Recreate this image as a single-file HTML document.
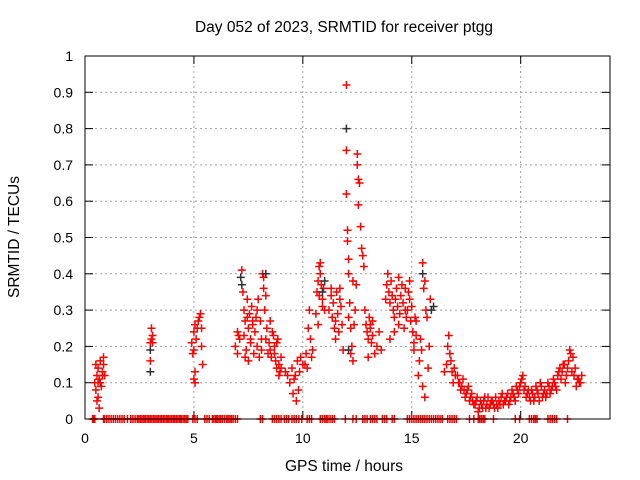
<!DOCTYPE html>
<html><head><meta charset="utf-8"><style>
html,body{margin:0;padding:0;background:#fff;}
svg{display:block;font-family:"Liberation Sans",sans-serif;}
</style></head><body>
<svg id="chart" width="640" height="480" viewBox="0 0 640 480">
<rect x="0" y="0" width="640" height="480" fill="#fff"/>
<text x="344" y="32" text-anchor="middle" font-size="15.5">Day 052 of 2023, SRMTID for receiver ptgg</text>
<text transform="translate(19,237) rotate(-90)" text-anchor="middle" font-size="15.5">SRMTID / TECUs</text>
<text x="344" y="471" text-anchor="middle" font-size="15.5">GPS time / hours</text>
<g id="grid"></g><g id="ticks"></g><g id="marks"></g>
<rect x="85" y="56" width="525" height="363" fill="none" stroke="#000" stroke-width="1"/>
</svg>
<script>
const xTicks=[0,5,10,15,20];
const yTicks=[0,0.1,0.2,0.3,0.4,0.5,0.6,0.7,0.8,0.9,1];
const yTickLabels=["0","0.1","0.2","0.3","0.4","0.5","0.6","0.7","0.8","0.9","1"];
const zeroTimes=[0.35,0.45,0.85,1.0,1.2,1.3,1.5,1.7,1.95,2.1,2.3,2.4,2.55,2.7,2.85,3.0,3.15,3.3,3.45,3.6,3.75,3.9,4.05,4.2,4.35,4.5,4.65,4.95,5.15,5.5,5.7,5.85,6.0,6.15,6.3,6.5,6.65,6.8,7.0,8.05,8.15,8.6,8.8,9.0,9.15,9.35,9.5,9.7,9.95,10.2,10.4,10.8,11.0,11.15,11.25,11.45,11.95,12.3,12.45,12.75,12.95,13.1,13.3,13.4,13.65,13.85,14.1,14.2,14.8,14.9,15.0,15.2,15.4,15.6,15.8,16.0,16.2,16.4,16.65,16.85,17.05,17.65,17.85,18.05,18.2,18.35,18.75,19.75,19.95,20.4,20.6,20.75,21.25,21.45,21.65,22.15];
const zeroTimesExtra=[0.4,0.9,1.1,1.4,1.6,1.8,2.2,2.47,2.62,2.77,2.92,3.07,3.22,3.37,3.52,3.67,3.82,3.97,4.12,4.27,4.42,4.57,4.72,5.05,5.6,5.92,6.07,6.22,6.4,6.57,6.72,6.9,8.7,8.9,9.25,9.6,9.82,10.3,10.9,11.08,11.35,12.85,13.2,13.75,15.1,15.3,15.5,15.7,15.9,16.1,16.3,16.75,16.95,18.12,18.28,20.5,20.68,21.35,21.55];
const redTimes=[
0.45,0.5,0.5,0.55,0.6,0.6,0.65,0.7,0.75,0.8,0.85,0.9,0.55,0.65,0.7,0.8,0.85,0.6,
3.0,3.05,3.05,3.1,3.1,3.0,
4.9,4.95,5.0,5.0,5.05,5.05,5.1,5.15,5.2,5.25,5.3,5.35,5.4,5.0,5.05,5.35,
6.9,7.0,7.0,7.05,7.1,
7.2,7.25,7.3,7.3,7.35,7.4,7.45,7.5,7.5,7.55,7.6,7.65,7.7,7.75,7.8,7.85,7.9,7.95,8.0,8.05,8.1,8.15,8.2,8.25,8.3,8.35,8.4,8.45,8.5,8.55,8.6,8.65,8.7,8.75,8.8,8.85,8.9,8.95,9.0,
7.35,7.45,7.6,7.7,7.9,8.1,8.2,8.3,8.5,8.7,8.8,9.0,8.9,
9.2,9.3,9.4,9.5,9.6,9.7,9.75,9.8,9.85,9.9,10.0,9.55,9.65,
10.1,10.15,10.2,10.25,10.3,10.35,10.4,10.45,
10.6,10.65,10.7,10.75,10.8,10.85,10.9,10.95,11.0,10.7,10.8,10.9,10.75,
11.2,11.3,11.35,11.4,11.45,11.5,11.55,11.6,11.65,11.7,11.75,11.8,11.85,11.3,11.5,11.7,
12.0,12.0,12.0,12.05,12.05,12.1,12.1,12.15,12.2,12.2,12.25,12.3,12.35,12.4,12.45,12.5,12.5,12.55,12.55,12.6,12.65,12.7,12.75,12.8,12.1,12.3,
12.85,12.9,12.95,13.0,13.05,13.1,13.15,13.2,13.3,13.4,13.5,13.6,13.0,13.1,13.2,
13.8,13.85,13.9,13.95,14.0,14.05,14.1,14.15,14.2,14.25,14.3,14.35,14.4,14.45,14.5,14.55,14.6,14.65,14.7,14.75,14.8,14.85,14.9,14.95,15.0,15.05,15.1,15.15,15.2,
14.0,14.2,14.4,14.7,14.9,15.1,15.2,
15.3,15.35,15.4,15.45,15.5,15.55,15.6,15.65,15.7,15.75,15.8,15.85,15.5,15.6,
16.5,16.6,16.65,16.7,16.75,16.8,16.85,16.9,16.95,17.0,
17.1,17.2,17.3,17.4,17.5,17.6,17.7,17.8,17.9,18.0,18.1,18.2,18.3,18.4,18.5,18.6,18.7,18.8,18.9,19.0,19.1,19.2,19.3,19.4,19.5,19.6,19.7,19.8,19.9,20.0,20.1,20.2,20.3,20.4,20.5,20.6,20.7,20.8,20.9,21.0,21.1,21.2,21.3,21.4,21.5,21.6,21.7,21.8,21.9,22.0,22.1,22.2,22.3,22.4,22.5,22.6,22.7,22.8,
17.15,17.25,17.35,17.45,17.55,17.65,17.75,17.85,17.95,18.05,18.15,18.25,18.35,18.45,18.55,18.65,18.75,18.85,18.95,19.05,19.15,19.25,19.35,19.45,19.55,19.65,19.75,19.85,19.95,20.05,20.15,20.25,20.35,20.45,20.55,20.65,20.75,20.85,20.95,21.05,21.15,21.25,21.35,21.45,21.55,21.65,21.75,21.85,21.95,22.05,22.15,22.25,22.35,22.45,22.55,22.65,22.75];
const redValues=[
0.10,0.15,0.08,0.12,0.06,0.14,0.11,0.16,0.09,0.13,0.17,0.12,0.05,0.03,0.10,0.12,0.15,0.10,
0.21,0.22,0.25,0.21,0.23,0.16,
0.21,0.18,0.11,0.24,0.13,0.26,0.22,0.25,0.27,0.28,0.29,0.25,0.15,0.19,0.10,0.20,
0.20,0.18,0.24,0.23,0.22,
0.41,0.35,0.30,0.23,0.27,0.19,0.28,0.25,0.16,0.29,0.22,0.31,0.26,0.18,0.24,0.28,0.20,0.33,0.17,0.27,0.19,0.40,0.36,0.30,0.22,0.25,0.18,0.21,0.19,0.17,0.24,0.23,0.20,0.16,0.14,0.22,0.15,0.13,0.14,
0.17,0.33,0.21,0.27,0.30,0.22,0.39,0.34,0.27,0.18,0.21,0.17,0.12,
0.13,0.12,0.10,0.14,0.11,0.05,0.16,0.08,0.13,0.17,0.15,0.07,0.12,
0.15,0.18,0.14,0.25,0.30,0.22,0.17,0.19,
0.29,0.35,0.38,0.42,0.40,0.37,0.33,0.36,0.30,0.26,0.43,0.31,0.34,
0.30,0.34,0.28,0.32,0.25,0.22,0.35,0.29,0.24,0.36,0.31,0.26,0.19,0.36,0.27,0.33,
0.92,0.74,0.62,0.52,0.49,0.44,0.40,0.32,0.25,0.18,0.20,0.38,0.26,0.30,0.37,0.73,0.70,0.66,0.59,0.65,0.53,0.47,0.45,0.42,0.28,0.16,
0.30,0.26,0.24,0.22,0.28,0.25,0.21,0.23,0.18,0.20,0.24,0.19,0.17,0.26,0.27,
0.33,0.37,0.40,0.35,0.32,0.38,0.34,0.30,0.28,0.33,0.36,0.31,0.26,0.29,0.34,0.37,0.32,0.25,0.36,0.28,0.30,0.35,0.33,0.27,0.31,0.24,0.21,0.28,0.23,
0.22,0.24,0.39,0.30,0.38,0.19,0.27,
0.12,0.16,0.22,0.19,0.43,0.36,0.38,0.30,0.28,0.14,0.20,0.33,0.09,0.06,
0.13,0.15,0.20,0.23,0.18,0.16,0.13,0.10,0.14,0.12,
0.12,0.10,0.09,0.08,0.07,0.09,0.06,0.05,0.04,0.06,0.03,0.04,0.05,0.03,0.06,0.04,0.05,0.03,0.04,0.05,0.06,0.04,0.05,0.07,0.05,0.08,0.06,0.09,0.07,0.10,0.12,0.09,0.07,0.06,0.08,0.05,0.09,0.07,0.10,0.06,0.08,0.07,0.09,0.08,0.11,0.09,0.12,0.14,0.13,0.15,0.12,0.16,0.18,0.17,0.14,0.11,0.10,0.12,
0.10,0.08,0.11,0.06,0.08,0.05,0.07,0.04,0.05,0.02,0.05,0.03,0.06,0.04,0.03,0.05,0.04,0.06,0.03,0.04,0.07,0.05,0.06,0.04,0.06,0.07,0.05,0.08,0.09,0.11,0.08,0.06,0.08,0.05,0.07,0.06,0.08,0.05,0.09,0.07,0.06,0.10,0.07,0.09,0.10,0.08,0.13,0.11,0.15,0.10,0.14,0.19,0.13,0.12,0.09,0.11,0.10];
const blackTimes=[3.0,3.0,7.15,7.2,8.3,12.0,12.1,15.5,15.9,16.0,10.9,11.0];
const blackValues=[0.19,0.13,0.39,0.37,0.40,0.80,0.19,0.40,0.30,0.31,0.35,0.38];

const L=85,R=610,T=56,B=419,XMAX=24.1;
const NS="http://www.w3.org/2000/svg";
function xs(t){return L+(t/XMAX)*(R-L);}
function ys(v){return B-v*(B-T);}
function mk(tag,attrs,parent){const e=document.createElementNS(NS,tag);for(const k in attrs)e.setAttribute(k,attrs[k]);parent.appendChild(e);return e;}
const grid=document.getElementById('grid'),ticks=document.getElementById('ticks'),marks=document.getElementById('marks');
yTicks.forEach((v,i)=>{
  const y=ys(v);
  if(i>0&&i<yTicks.length-1){
    const g=mk('line',{x1:L,x2:R,y1:y,y2:y,stroke:'#a0a0a0','stroke-dasharray':'2,3'},grid);
    
    
  }
  mk('line',{x1:L,x2:L+8,y1:y,y2:y,stroke:'#000'},ticks);
  mk('line',{x1:R,x2:R-8,y1:y,y2:y,stroke:'#000'},ticks);
  const t=mk('text',{x:73,y:y+5,'text-anchor':'end','font-size':14},ticks);
  t.textContent=yTickLabels[i];
  
  
});
xTicks.forEach(v=>{
  const x=xs(v);
  if(v>0){
    const g=mk('line',{x1:x,x2:x,y1:T,y2:B,stroke:'#a0a0a0','stroke-dasharray':'2,3'},grid);
    
    
  }
  mk('line',{x1:x,x2:x,y1:B,y2:B-8,stroke:'#000'},ticks);
  mk('line',{x1:x,x2:x,y1:T,y2:T+8,stroke:'#000'},ticks);
  const t=mk('text',{x:x,y:443,'text-anchor':'middle','font-size':14},ticks);
  t.textContent=String(v);
  
  
});
function plus(t,v,color,name){
  const x=xs(t),y=ys(v);
  const p=mk('path',{d:`M${x-4},${y}H${x+4}M${x},${y-4}V${y+4}`,stroke:color,'stroke-width':1.5,fill:'none'},marks);
  
  
}
zeroTimes.forEach(t=>plus(t,0,'#ff0000','zero-point'));
zeroTimesExtra.forEach(t=>plus(t,0,'#ff0000','zero-point'));
redTimes.forEach((t,i)=>plus(t,redValues[i],'#ff0000','srmtid-point'));
blackTimes.forEach((t,i)=>plus(t,blackValues[i],'#303030','srmtid-point-black'));
</script>
</body></html>
